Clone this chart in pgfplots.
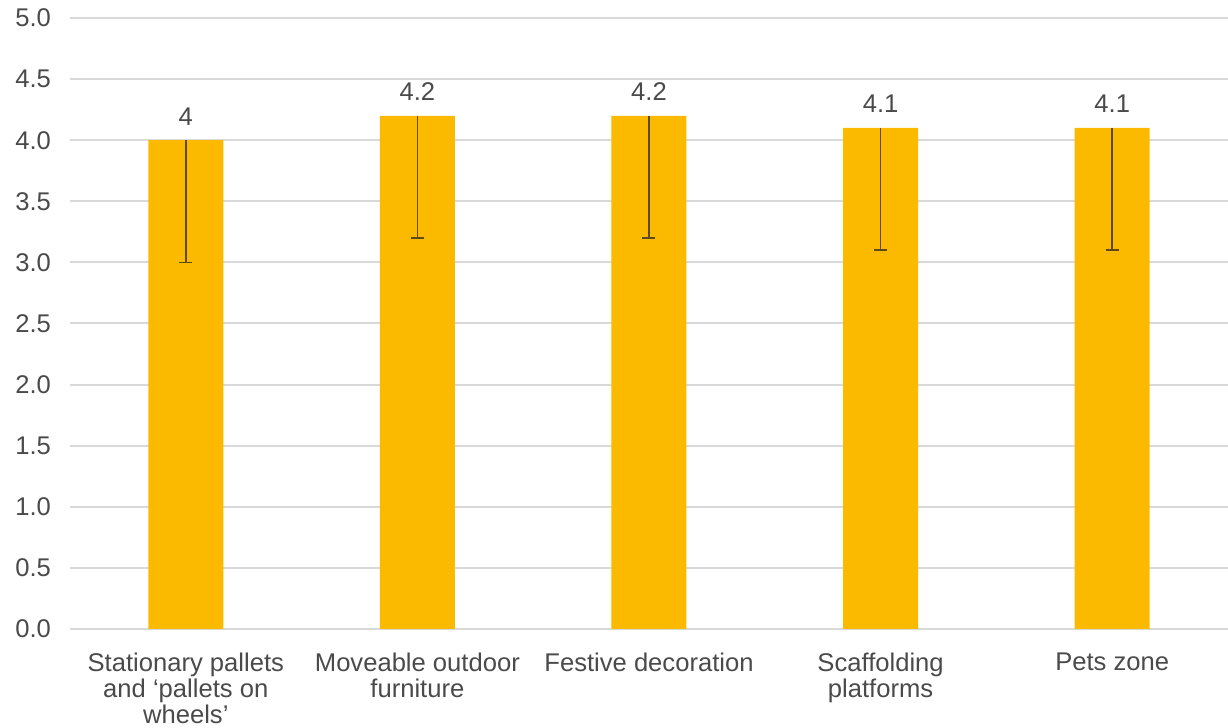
\documentclass[border=0pt]{standalone}
\usepackage{pgfplots}
\pgfplotsset{compat=1.18}
\usepackage{fontspec}
\setmainfont{Liberation Sans}
\definecolor{barfill}{HTML}{FBBA00}
\definecolor{txt}{HTML}{4A4A4A}
\definecolor{gridc}{HTML}{D9D9D9}
\definecolor{errc}{HTML}{5E4A14}

\begin{document}
\begin{tikzpicture}
\path[use as bounding box] (-35pt,-49.5pt) rectangle (579pt,314.5pt);
\begin{axis}[
    scale only axis,
    width=579pt, height=305.5pt,
    ymin=0, ymax=5,
    xmin=-0.5, xmax=4.5,
    ytick={0,0.5,...,5},
    xtick={0,1,2,3,4},
    xticklabels={{Stationary pallets\\and ‘pallets on\\wheels’},{Moveable outdoor\\furniture},{Festive decoration},{Scaffolding\\platforms},{Pets zone}},
    axis line style={draw=none},
    tick style={draw=none},
    ymajorgrids,
    grid style={gridc, line width=1pt},
    font=\fontsize{12.8}{13.2}\selectfont,
    ticklabel style={text=txt},
    yticklabel style={xshift=-6pt,
        /pgf/number format/fixed,
        /pgf/number format/fixed zerofill,
        /pgf/number format/precision=1,
        /pgf/number format/assume math mode=true},
    xticklabel style={align=center, yshift=-4pt},
    ybar,
    bar width=37.5pt,
    nodes near coords,
    nodes near coords style={text=txt, yshift=4pt,
        /pgf/number format/assume math mode=true},
    clip=false,
]
\addplot[fill=barfill, draw=none,
    error bars/.cd, y dir=minus, y explicit,
    error bar style={errc, line width=0.8pt},
    error mark options={errc, rotate=90, mark size=3.25pt, line width=0.8pt}]
  table[x=x, y=y, y error=e] {
x y e
0 4.0 1.0
1 4.2 1.0
2 4.2 1.0
3 4.1 1.0
4 4.1 1.0
};
\end{axis}
\end{tikzpicture}
\end{document}
